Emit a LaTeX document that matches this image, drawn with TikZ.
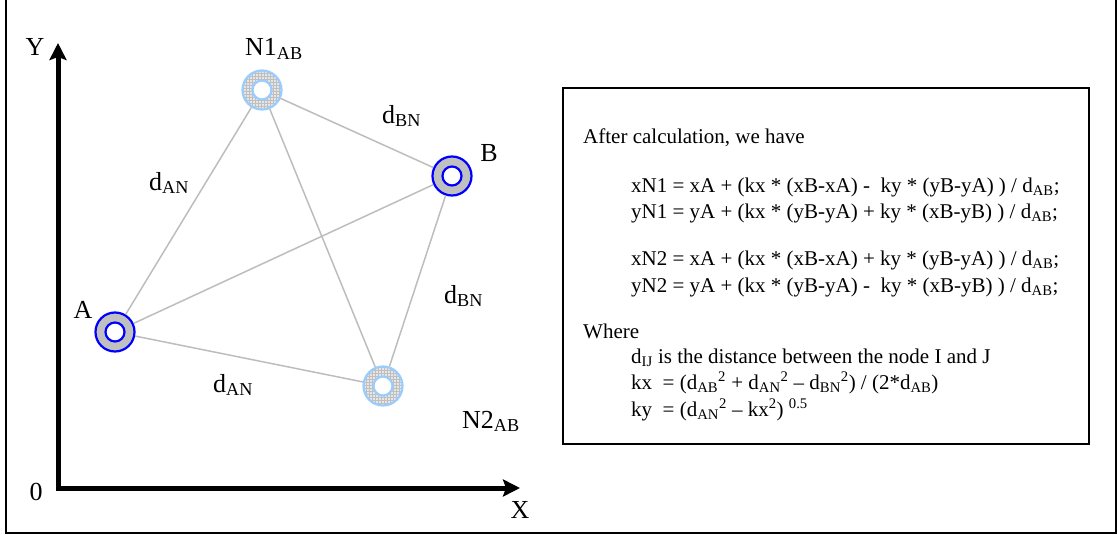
\documentclass[tikz,border=0pt]{standalone}
\usepackage{fontspec}
\setmainfont{Liberation Serif}
\usetikzlibrary{arrows.meta,patterns}
\definecolor{ringblue}{HTML}{0000FF}
\definecolor{ringgray}{HTML}{C0C0C0}
\definecolor{lightring}{HTML}{99CCFF}
\definecolor{hatchbg}{HTML}{E6E6E6}
\definecolor{edgegray}{HTML}{BDBDBD}
\newcommand{\sbs}[1]{\textsubscript{#1}}
\newcommand{\sps}[1]{\textsuperscript{#1}}
\begin{document}
\begin{tikzpicture}[x=1pt,y=-1pt,
  solidring/.style={circle,draw=ringblue,line width=2.2pt,fill=ringgray,minimum size=39pt,inner sep=0pt},
  solidhole/.style={circle,draw=ringblue,line width=2.2pt,fill=white,minimum size=19pt,inner sep=0pt},
  hatchring/.style={circle,draw=lightring,line width=2.2pt,preaction={fill=hatchbg},pattern=grid,pattern color=gray!50,minimum size=39pt,inner sep=0pt},
  hatchhole/.style={circle,draw=lightring,line width=2.2pt,fill=white,minimum size=19pt,inner sep=0pt},
  link/.style={draw=edgegray,line width=1.5pt},
  lbl/.style={font=\fontsize{26}{30}\selectfont,inner sep=0pt},
  boxtxt/.style={font=\fontsize{21}{25}\selectfont,inner sep=0pt,anchor=base west},
  axis/.style={line width=5pt,line join=miter,{Stealth[length=17pt,width=17pt,inset=3pt]}-{Stealth[length=17pt,width=17pt,inset=3pt]}},
  frame/.style={line width=2pt}]
\useasboundingbox (0,0) rectangle (1117,535);
% outer frame
\draw[frame] (6,0) -- (6,533) -- (1116,533) -- (1116,0);
% axes
\coordinate (ytip) at (58,43);
\coordinate (orig) at (58,488);
\coordinate (xtip) at (520,488);
\draw[axis] (ytip) -- (orig) -- (xtip);
\node[lbl] (ylab) at (35,47) {Y};
\node[lbl] (olab) at (36,492) {0};
\node[lbl] (xlab) at (520,510) {X};
% nodes
\node[solidring] (A) at (115,332) {};
\node[solidhole] (Ah) at (A) {};
\node[hatchring] (N1) at (262,90) {};
\node[hatchhole] (N1h) at (N1) {};
\node[solidring] (B) at (452,176) {};
\node[solidhole] (Bh) at (B) {};
\node[hatchring] (N2) at (383,386) {};
\node[hatchhole] (N2h) at (N2) {};
% links
\draw[link] (A) -- (N1);
\draw[link] (A) -- (B);
\draw[link] (A) -- (N2);
\draw[link] (N1) -- (B);
\draw[link] (N1) -- (N2);
\draw[link] (B) -- (N2);
% labels
\node[lbl,anchor=base west] (n1lab) at (245,56) {N1\sbs{AB}};
\node[lbl,anchor=base west] (n2lab) at (462,428) {N2\sbs{AB}};
\node[lbl] (alab) at (83,310) {A};
\node[lbl] (blab) at (489,153) {B};
\node[lbl,anchor=base west] (d1) at (149,190) {d\sbs{AN}};
\node[lbl,anchor=base west] (d2) at (382,123) {d\sbs{BN}};
\node[lbl,anchor=base west] (d3) at (444,303) {d\sbs{BN}};
\node[lbl,anchor=base west] (d4) at (213,392) {d\sbs{AN}};
% formula box
\draw[frame] (563,88) rectangle (1089,444);
\node[boxtxt] (t1) at (583,143) {After calculation, we have};
\node[boxtxt] (t2) at (631,192) {xN1 = xA + (kx * (xB-xA) -\ \ ky * (yB-yA) ) / d\sbs{AB};};
\node[boxtxt] (t3) at (631,218) {yN1 = yA + (kx * (yB-yA) + ky * (xB-yB) ) / d\sbs{AB};};
\node[boxtxt] (t4) at (631,265) {xN2 = xA + (kx * (xB-xA) + ky * (yB-yA) ) / d\sbs{AB};};
\node[boxtxt] (t5) at (631,292) {yN2 = yA + (kx * (yB-yA) -\ \ ky * (xB-yB) ) / d\sbs{AB};};
\node[boxtxt] (t6) at (583,338) {Where};
\node[boxtxt] (t7) at (631,363) {d\sbs{IJ} is the distance between the node I and J};
\node[boxtxt] (t8) at (631,389) {kx\enspace= (d\sbs{AB}\sps{2} + d\sbs{AN}\sps{2} -- d\sbs{BN}\sps{2}) / (2*d\sbs{AB})};
\node[boxtxt] (t9) at (631,416) {ky\enspace= (d\sbs{AN}\sps{2} -- kx\sps{2}) \sps{0.5}};
\end{tikzpicture}
\end{document}
